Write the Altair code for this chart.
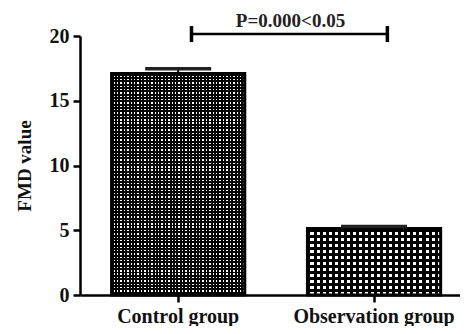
import altair as alt
import pandas as pd

groups = ["Control group", "Observation group"]
means = [17.1, 5.13]
sem = [0.38, 0.16]
p_label = "P=0.000<0.05"
bracket_y = 20.15

df = pd.DataFrame({
    "group": groups,
    "mean": means,
    "upper": [m + s for m, s in zip(means, sem)],
})
bracket_df = pd.DataFrame({"group": groups, "y": [bracket_y, bracket_y]})
text_df = pd.DataFrame({"group": [groups[0]], "y": [bracket_y], "label": [p_label]})

FONT = "Liberation Serif"


def stripes(n, frac_clear, along_x):
    stops = []
    clear = "rgba(0,0,0,0)"
    for i in range(n):
        a = i / n
        b = (i + (1 - frac_clear)) / n
        c = (i + 1) / n
        stops += [
            alt.GradientStop(offset=a, color="black"),
            alt.GradientStop(offset=b, color="black"),
            alt.GradientStop(offset=b, color=clear),
            alt.GradientStop(offset=min(c, 1.0), color=clear),
        ]
    if along_x:
        return alt.LinearGradient(gradient="linear", stops=stops, x1=0, x2=1, y1=0, y2=0)
    return alt.LinearGradient(gradient="linear", stops=stops, x1=0, x2=0, y1=0, y2=1)


x_enc = alt.X(
    "group:N",
    sort=groups,
    scale=alt.Scale(paddingInner=0.32, paddingOuter=0.13, align=0.62),
    axis=alt.Axis(title=None, labelAngle=0, labelPadding=4, tickSize=7),
)
y_enc = alt.Y(
    "mean:Q",
    scale=alt.Scale(domain=[0, 20], nice=False),
    axis=alt.Axis(values=[0, 5, 10, 15, 20], title="FMD value", tickSize=7,
                  labelPadding=4, titlePadding=15),
)

base = alt.Chart(df).encode(x=x_enc, y=y_enc)

white = base.mark_bar(fill="white")

patterns = []
# (group, nx, ny, clear fraction)
for g, nx, ny, fr in [(groups[0], 39, 66, 0.42), (groups[1], 22, 11, 0.5)]:
    sub = base.transform_filter(alt.datum.group == g)
    patterns.append(sub.mark_bar(fill=stripes(nx, fr, True)))
    patterns.append(sub.mark_bar(fill=stripes(ny, fr, False)))

outline = base.mark_bar(fillOpacity=0, stroke="black", strokeWidth=3)

err_rule = base.mark_rule(color="black", strokeWidth=2).encode(y2="upper:Q")
err_cap = base.mark_tick(color="#222", thickness=3.5, size=66, opacity=1).encode(y="upper:Q")

bx = alt.X("group:N", sort=groups, bandPosition=0.6)
bracket_line = alt.Chart(bracket_df).mark_line(color="black", strokeWidth=2.5).encode(
    x=bx, y=alt.Y("y:Q")
)
bracket_caps = alt.Chart(bracket_df).mark_tick(
    orient="vertical", color="black", thickness=3.5, size=16, opacity=1
).encode(x=bx, y=alt.Y("y:Q"))

ptext = alt.Chart(text_df).mark_text(
    font=FONT, fontWeight="bold", fontSize=19, color="#222", baseline="bottom",
    dy=-3, xOffset=99
).encode(x=bx, y=alt.Y("y:Q"), text="label:N")

chart = alt.layer(
    white, *patterns, outline, err_rule, err_cap, bracket_line, bracket_caps, ptext
).properties(
    width=380,
    height=259,
    autosize=alt.AutoSizeParams(type="none"),
    padding={"left": 72, "top": 28, "right": 0, "bottom": 31},
).configure_view(stroke=None).configure_axis(
    grid=False,
    domainColor="black",
    domainWidth=2.5,
    tickColor="black",
    tickWidth=2.5,
    labelFont=FONT,
    labelFontWeight="bold",
    labelFontSize=20,
    labelColor="#111",
    titleFont=FONT,
    titleFontWeight="bold",
    titleFontSize=19,
    titleColor="#111",
)

chart.save("out.html", embed_options={"renderer": "svg", "actions": False})
